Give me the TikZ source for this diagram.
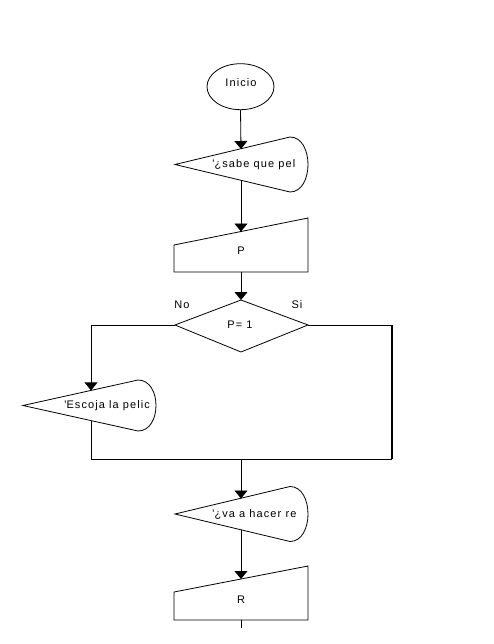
\documentclass[tikz,border=0pt]{standalone}
\usepackage{fontspec}
\setmainfont{Liberation Sans}[LetterSpace=10]
\usetikzlibrary{arrows.meta,shapes.geometric}
\newcommand\dispath[3]{(#1,#2) -- ({#1+115},{#2-#3}) .. controls ({#1+139},{#2-#3}) and ({#1+139},{#2+#3}) .. ({#1+115},{#2+#3}) -- cycle}
\begin{document}
\begin{tikzpicture}[x=1pt,y=-1pt,line width=0.8pt,
  txt/.style={font=\fontsize{11}{13}\selectfont, inner sep=0pt},
  arr/.style={-{Triangle[width=13pt,length=8pt]}},
  outline/.style={draw, line width=0.8pt}]
\useasboundingbox (0,0) rectangle (494,644);
% start
\node[outline, ellipse, minimum width=67pt, minimum height=46pt, inner sep=0pt] (ini) at (240.5,86.7) {};
\node[txt] (initxt) at (241,83) {Inicio};
% display 1
\draw[outline] \dispath{175}{164.5}{27.5};
\begin{scope}
\clip \dispath{175}{164.5}{27.5};
\node[txt, anchor=west] (d1txt) at (212,164.5) {\textquotesingle¿sabe que pel};
\end{scope}
\coordinate (d1t) at (241,149);
\coordinate (d1b) at (241,180);
% manual input P
\draw[outline] (174,245) -- (308,218) -- (308,272) -- (174,272) -- cycle;
\node[txt] (ptxt) at (241,250.5) {P};
\coordinate (pt) at (241,231.5);
\coordinate (pb) at (241,272);
% decision
\draw[outline] (175,325) coordinate (dl) -- (241,300) coordinate (dt) -- (308,325) coordinate (dr) -- (241,352) -- cycle;
\node[txt] (dtxt) at (240,325) {P= 1};
\node[txt] (no) at (182,305) {No};
\node[txt] (si) at (297,305) {Si};
% display 2
\draw[outline] \dispath{23}{405.5}{25.5};
\begin{scope}
\clip \dispath{23}{405.5}{25.5};
\node[txt, anchor=west] (d2txt) at (64,405.5) {\textquotesingle Escoja la pelic};
\end{scope}
\coordinate (d2t) at (91,390.4);
\coordinate (d2b) at (91,420.6);
\coordinate (lc) at (91,325);
\coordinate (rc) at (392,325);
\coordinate (lj) at (91,459);
\coordinate (rj) at (392,459);
\coordinate (mj) at (241,459);
% display 3
\draw[outline] \dispath{175}{514}{27.5};
\begin{scope}
\clip \dispath{175}{514}{27.5};
\node[txt, anchor=west] (d3txt) at (212,514) {\textquotesingle¿va a hacer re};
\end{scope}
\coordinate (d3t) at (241,498.5);
\coordinate (d3b) at (241,529.5);
% manual input R
\draw[outline] (174,592) -- (308,566) -- (308,620) -- (174,620) -- cycle;
\node[txt] (rtxt) at (241,599.5) {R};
\coordinate (rt) at (241,579);
\coordinate (rb) at (241,620);
\coordinate (rend) at (241,628);
% connectors
\draw[arr] (ini.south) -- (d1t);
\draw[arr] (d1b) -- (pt);
\draw[arr] (pb) -- (dt);
\draw[arr] (dl) -- (lc) -- (d2t);
\draw (d2b) -- (lj) -- (rj);
\draw[line width=1.6pt] (rj) -- (rc);
\draw (rc) -- (dr);
\draw[arr] (mj) -- (d3t);
\draw[arr] (d3b) -- (rt);
\draw (rb) -- (rend);
\end{tikzpicture}
\end{document}
